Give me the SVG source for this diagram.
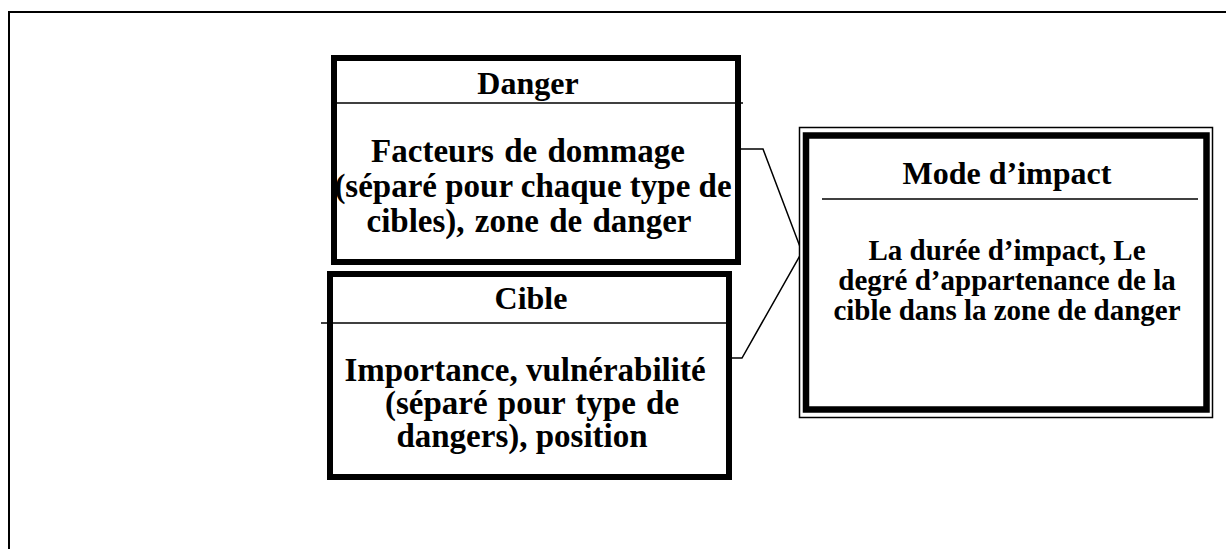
<svg xmlns="http://www.w3.org/2000/svg" width="1226" height="549" viewBox="0 0 1226 549">
<style>
.t{font-family:"Liberation Serif","Times New Roman",serif;font-weight:bold;fill:#000;text-anchor:middle}
.h{font-size:32px}
.b{font-size:33px}
.m{font-size:29px}
.box{fill:#fff;stroke:#000;stroke-width:6}
.div{stroke:#000;stroke-width:1.5;fill:none}
.conn{stroke:#000;stroke-width:1.5;fill:none}
</style>
<rect width="1226" height="549" fill="#fff"/>
<path d="M9 549 V12 H1226" fill="none" stroke="#000" stroke-width="2"/>
<g id="connectors">
<polyline class="conn" points="741,149 763,149 802,252"/>
<polyline class="conn" points="732,358 742,358 802,252"/>
</g>
<g id="danger">
<rect class="box" x="334" y="58" width="404" height="204"/>
<line class="div" x1="337" y1="103" x2="743" y2="103"/>
<text class="t h" x="528" y="94">Danger</text>
<text class="t b" x="528" y="162" word-spacing="2">Facteurs de dommage</text>
<text class="t b" x="533" y="197">(séparé pour chaque type de</text>
<text class="t b" x="529" y="232" word-spacing="2">cibles), zone de danger</text>
</g>
<g id="cible">
<rect class="box" x="330" y="274" width="399" height="203"/>
<line class="div" x1="321" y1="323" x2="727" y2="323"/>
<text class="t h" x="531" y="309">Cible</text>
<text class="t b" x="525" y="381">Importance, vulnérabilité</text>
<text class="t b" x="532" y="414" word-spacing="2">(séparé pour type de</text>
<text class="t b" x="522" y="447">dangers), position</text>
</g>
<g id="mode">
<rect x="799.5" y="127.5" width="413" height="290" fill="#fff" stroke="#000" stroke-width="1.5"/>
<rect x="806" y="135.5" width="400.5" height="274" fill="none" stroke="#000" stroke-width="6.5"/>
<line class="div" x1="822" y1="199" x2="1198" y2="199"/>
<text class="t h" x="1007" y="184">Mode d’impact</text>
<text class="t m" x="1007" y="260">La durée d’impact, Le</text>
<text class="t m" x="1007" y="290">degré d’appartenance de la</text>
<text class="t m" x="1007" y="320">cible dans la zone de danger</text>
</g>
</svg>
